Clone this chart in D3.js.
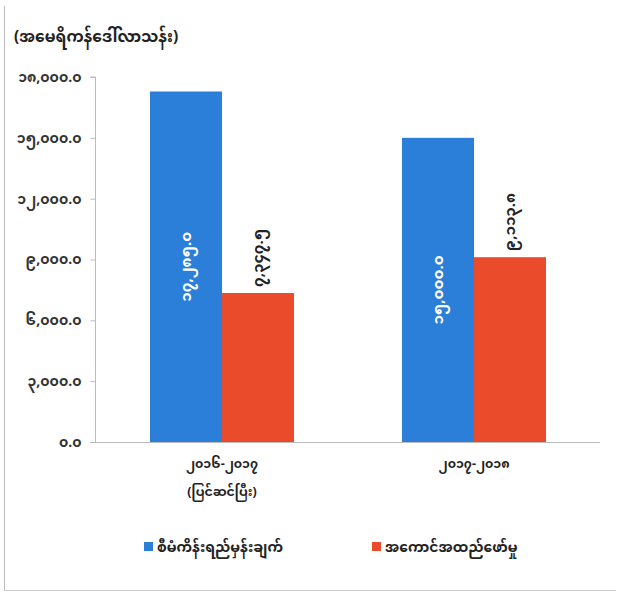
<!DOCTYPE html>
<html><head><meta charset="utf-8">
<script src="https://cdn.jsdelivr.net/npm/d3@7"></script>
<style>
body{margin:0;background:#fff;}
text{font-family:"Noto Sans Myanmar","Padauk","Myanmar Text","Myanmar3","Noto Sans","DejaVu Sans",sans-serif;}
</style></head>
<body><svg id="c" width="619" height="593"></svg>
<script>
const categories = ["၂၀၁၆-၂၀၁၇|(ပြင်ဆင်ပြီး)", "၂၀၁၇-၂၀၁၈"];
const seriesNames = ["စီမံကိန်းရည်မှန်းချက်", "အကောင်အထည်ဖော်မှု"];
const planValues = [17285.0, 15000.0];
const actualValues = [7347.5, 9113.8];
const planLabels = ["၁၇,၂၈၅.၀", "၁၅,၀၀၀.၀"];
const actualLabels = ["၇,၃၄၇.၅", "၉,၁၁၃.၈"];
const tickValues = [0, 3000, 6000, 9000, 12000, 15000, 18000];
const tickLabels = ["၀.၀", "၃,၀၀၀.၀", "၆,၀၀၀.၀", "၉,၀၀၀.၀", "၁၂,၀၀၀.၀", "၁၅,၀၀၀.၀", "၁၈,၀၀၀.၀"];
const unitLabel = "(အမေရိကန်ဒေါ်လာသန်း)";
const colors = ["#2b7fd8", "#ea4c2b"];

const svg = d3.select("#c");
// frame
svg.append("line").attr("x1",4.5).attr("x2",4.5).attr("y1",6).attr("y2",590).attr("stroke","#bbb");
svg.append("line").attr("x1",4).attr("x2",616).attr("y1",590.5).attr("y2",590.5).attr("stroke","#ccc");

const x0 = d3.scaleBand().domain(categories).range([96, 600]).paddingInner(0).paddingOuter(0);
const x1 = d3.scaleBand().domain([0,1]).range([0, x0.bandwidth()]).paddingInner(0).paddingOuter(0.75);
const y = d3.scaleLinear().domain([0, 18000]).range([442, 77]);

// y axis
const yAxis = d3.axisLeft(y).tickValues(tickValues).tickFormat((d,i)=>tickLabels[i]).tickSize(5).tickPadding(9);
const ga = svg.append("g").attr("transform","translate(95.5,0)").call(yAxis);
ga.select(".domain").attr("stroke","#bbb").attr("d","M-5,"+y(18000)+"H0V"+y(0));
ga.selectAll(".tick line").attr("stroke","#bbb");
ga.selectAll(".tick text").attr("font-size",14).attr("font-weight","bold").attr("fill","#333");

// x baseline
svg.append("line").attr("x1",90).attr("x2",600).attr("y1",y(0)+0.5).attr("y2",y(0)+0.5).attr("stroke","#bbb");

const data = categories.map((c,i)=>({c, vals:[planValues[i], actualValues[i]], labs:[planLabels[i], actualLabels[i]]}));
const g = svg.append("g");
data.forEach(d=>{
  d.vals.forEach((v,j)=>{
    const bx = x0(d.c)+x1(j);
    g.append("rect").attr("x",bx).attr("y",y(v)).attr("width",x1.bandwidth()).attr("height",y(0)-y(v)).attr("fill",colors[j]);
    const cx = bx + x1.bandwidth()/2;
    let ty, anchor, fill;
    if(j===0){ ty = (y(v)+y(0))/2; anchor="middle"; fill="#fff"; }
    else { ty = y(v)-6; anchor="start"; fill="#222"; }
    g.append("text").attr("transform",`translate(${cx+5},${ty}) rotate(-90)`)
      .attr("text-anchor",anchor).attr("font-size",15).attr("font-weight","bold").attr("fill",fill).text(d.labs[j]);
  });
  const parts = d.c.split("|");
  const cxc = x0(d.c)+x0.bandwidth()/2;
  parts.forEach((p,k)=>{
    svg.append("text").attr("x",cxc).attr("y",468+k*28).attr("text-anchor","middle")
      .attr("font-size",12.5).attr("font-weight","bold").attr("fill","#222").text(p);
  });
});

// unit label
svg.append("text").attr("x",14).attr("y",42).attr("font-size",15.5).attr("font-weight","bold").attr("fill","#222").text(unitLabel);

// legend
const legX = [144, 372];
seriesNames.forEach((s,i)=>{
  svg.append("rect").attr("x",legX[i]).attr("y",542).attr("width",9).attr("height",9).attr("fill",colors[i]);
  svg.append("text").attr("x",legX[i]+13).attr("y",552).attr("font-size",14).attr("font-weight","bold").attr("fill","#222").text(s);
});
</script></body></html>
